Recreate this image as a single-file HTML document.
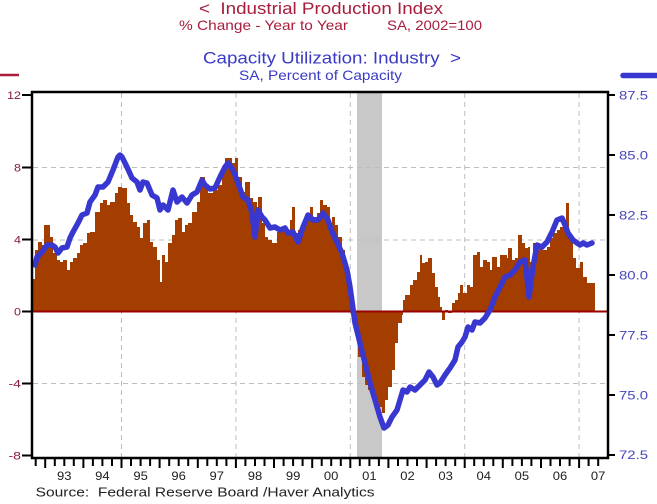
<!DOCTYPE html>
<html><head><meta charset="utf-8"><style>
html,body{margin:0;padding:0;background:#fff;}
svg{display:block;font-family:"Liberation Sans",Arial,sans-serif;}
</style></head><body>
<svg width="657" height="504" viewBox="0 0 657 504" xmlns="http://www.w3.org/2000/svg">
<rect width="657" height="504" fill="#fff"/>
<!-- titles -->
<text x="199" y="14" font-size="17" fill="#a81c3c" textLength="244" lengthAdjust="spacingAndGlyphs">&lt;&#160;&#160;Industrial Production Index</text>
<text x="179" y="30" font-size="14" fill="#a81c3c" textLength="169" lengthAdjust="spacingAndGlyphs">% Change - Year to Year</text>
<text x="387" y="30" font-size="14" fill="#a81c3c" textLength="95" lengthAdjust="spacingAndGlyphs">SA, 2002=100</text>
<text x="203" y="63.5" font-size="17" fill="#3a3ac4" textLength="258" lengthAdjust="spacingAndGlyphs">Capacity Utilization: Industry&#160;&#160;&gt;</text>
<text x="239" y="80" font-size="14" fill="#3a3ac4" textLength="163" lengthAdjust="spacingAndGlyphs">SA, Percent of Capacity</text>
<!-- legend marks -->
<line x1="0" y1="75" x2="19" y2="75" stroke="#a81c3c" stroke-width="2.5"/>
<line x1="623" y1="75.5" x2="657" y2="75.5" stroke="#3838d0" stroke-width="5.5" stroke-linecap="round"/>
<!-- recession -->
<rect x="357" y="93" width="25" height="364" fill="#c8c8c8"/>
<!-- gridlines -->
<g stroke="#bdbdbd" stroke-width="1" stroke-dasharray="5,4">
<line x1="33" y1="167.5" x2="607" y2="167.5"/>
<line x1="33" y1="240" x2="607" y2="240"/>
<line x1="33" y1="383.5" x2="607" y2="383.5"/>
<line x1="121.5" y1="93" x2="121.5" y2="457"/>
<line x1="235.9" y1="93" x2="235.9" y2="457"/>
<line x1="350.3" y1="93" x2="350.3" y2="457"/>
<line x1="464.7" y1="93" x2="464.7" y2="457"/>
<line x1="579.1" y1="93" x2="579.1" y2="457"/>
</g>
<!-- IP bars -->
<path fill="#a33d00" d="M33,311 V279 H35 V250 H38 V242 H42 V245 H44 V225 H50 V237 H53 V253 H57 V260 H60 V262 H63 V260 H67 V270 H70 V262 H73 V258 H77 V253 H80 V245 H83 V243 H87 V233 H90 V232 H95 V212 H100 V203 H103 V200 H107 V205 H110 V202 H115 V193 H118 V187 H122 V188 H127 V203 H130 V215 H133 V222 H137 V227 H140 V238 H143 V223 H147 V220 H150 V242 H153 V247 H157 V260 H160 V282 H162 V255 H165 V262 H168 V243 H172 V235 H175 V220 H178 V218 H182 V232 H185 V225 H188 V223 H192 V212 H197 V202 H200 V177 H205 V187 H208 V193 H213 V190 H218 V185 H222 V173 H225 V158 H232 V163 H235 V158 H238 V177 H242 V192 H245 V182 H250 V198 H253 V202 H257 V207 H258 V197 H262 V223 H265 V237 H268 V240 H272 V243 H277 V232 H280 V230 H283 V227 H287 V233 H290 V220 H292 V207 H295 V233 H298 V230 H303 V220 H307 V213 H310 V207 H313 V217 H317 V213 H320 V200 H323 V205 H327 V207 H330 V225 H332 V217 H335 V225 H338 V237 H342 V250 H345 V273 H350 V295 H353 V310 H354 V325 H357 V333 H358 V357 H362 V377 H365 V385 H368 V390 H372 V397 H375 V400 H378 V407 H382 V413 H385 V400 H388 V387 H392 V370 H395 V343 H398 V323 H402 V315 H403 V300 H405 V295 H410 V285 H413 V280 H417 V272 H420 V255 H422 V263 H425 V262 H428 V258 H432 V273 H435 V287 H438 V297 H440 V307 H442 V320 H445 V310 H448 V313 H452 V303 H455 V300 H458 V293 H460 V285 H463 V293 H467 V285 H470 V287 H473 V255 H477 V252 H480 V267 H483 V260 H487 V262 H490 V270 H492 V257 H497 V267 H500 V255 H507 V258 H508 V248 H512 V260 H515 V258 H518 V235 H522 V243 H525 V248 H528 V247 H530 V262 H533 V243 H540 V245 H543 V250 H547 V247 H550 V238 H553 V233 H557 V230 H560 V227 H563 V220 H566 V203 H569 V235 H573 V258 H576 V268 H580 V262 H583 V277 H587 V283 H595 V311 Z"/>
<!-- zero line -->
<line x1="33" y1="311.5" x2="607" y2="311.5" stroke="#990000" stroke-width="2"/>
<!-- CU line -->
<polyline fill="none" stroke="#3838d0" stroke-width="5.5" stroke-linejoin="round" stroke-linecap="round" points="35,265 37,257 42,252 47,245 52,245 55,247 58,253 62,248 67,247 70,238 73,232 78,223 82,215 87,213 90,202 95,195 98,187 103,187 108,182 113,170 118,157 120,155 122,157 127,167 132,178 137,182 140,190 143,182 147,183 152,195 157,198 160,210 163,205 168,210 173,190 177,202 182,197 187,203 192,195 197,192 202,180 205,185 210,189 215,188 220,177 225,167 228,163 233,170 238,183 243,197 248,200 252,213 255,237 258,210 262,217 265,220 270,228 275,227 280,230 285,228 288,233 293,232 298,242 303,227 308,215 313,220 318,220 323,213 328,220 332,232 337,242 342,253 347,270 350,287 355,323 360,343 365,363 370,383 375,400 380,417 384,428 388,425 392,417 397,410 400,400 403,390 407,392 410,387 415,390 420,385 425,380 429,372 433,377 437,385 440,383 445,375 450,368 455,360 458,347 462,342 465,337 468,327 472,330 475,322 480,323 485,318 490,310 495,297 500,287 505,277 510,275 515,270 520,262 525,260 529,297 533,267 537,245 542,247 547,242 552,232 557,220 562,218 565,225 568,233 573,240 577,243 580,245 583,243 587,245 592,243"/>
<!-- frame -->
<rect x="32" y="92" width="576" height="366" fill="none" stroke="#000" stroke-width="2.5"/>
<!-- left ticks -->
<g stroke="#000" stroke-width="2">
<line x1="22" y1="95" x2="32" y2="95"/>
<line x1="22" y1="167.5" x2="32" y2="167.5"/>
<line x1="22" y1="239.5" x2="32" y2="239.5"/>
<line x1="22" y1="311.5" x2="32" y2="311.5"/>
<line x1="22" y1="383.5" x2="32" y2="383.5"/>
<line x1="22" y1="455.5" x2="32" y2="455.5"/>
<line x1="608" y1="95" x2="615" y2="95"/>
<line x1="608" y1="155" x2="615" y2="155"/>
<line x1="608" y1="215" x2="615" y2="215"/>
<line x1="608" y1="275" x2="615" y2="275"/>
<line x1="608" y1="335" x2="615" y2="335"/>
<line x1="608" y1="395" x2="615" y2="395"/>
<line x1="608" y1="455" x2="615" y2="455"/>
</g>
<g font-size="11" fill="#8b1a3a" text-anchor="end">
<text x="21" y="99" textLength="14" lengthAdjust="spacingAndGlyphs">12</text>
<text x="21" y="171.5" textLength="7" lengthAdjust="spacingAndGlyphs">8</text>
<text x="21" y="243.5" textLength="7" lengthAdjust="spacingAndGlyphs">4</text>
<text x="21" y="315.5" textLength="7" lengthAdjust="spacingAndGlyphs">0</text>
<text x="21" y="387.5" textLength="12.5" lengthAdjust="spacingAndGlyphs">-4</text>
<text x="21" y="459.3" textLength="12.5" lengthAdjust="spacingAndGlyphs">-8</text>
</g>
<g font-size="11.5" fill="#4545c0">
<text x="619" y="99.5" textLength="29" lengthAdjust="spacingAndGlyphs">87.5</text>
<text x="619" y="159.5" textLength="29" lengthAdjust="spacingAndGlyphs">85.0</text>
<text x="619" y="219.5" textLength="29" lengthAdjust="spacingAndGlyphs">82.5</text>
<text x="619" y="279.5" textLength="29" lengthAdjust="spacingAndGlyphs">80.0</text>
<text x="619" y="339.5" textLength="29" lengthAdjust="spacingAndGlyphs">77.5</text>
<text x="619" y="399.5" textLength="29" lengthAdjust="spacingAndGlyphs">75.0</text>
<text x="619" y="459" textLength="29" lengthAdjust="spacingAndGlyphs">72.5</text>
</g>
<!-- bottom ticks -->
<path stroke="#000" stroke-width="2" fill="none" d="M35.7,459 V466 M54.8,459 V466 M64.3,459 V466 M73.8,459 V466 M92.9,459 V466 M102.4,459 V466 M112,459 V466 M131,459 V466 M140.6,459 V466 M150.1,459 V466 M169.2,459 V466 M178.7,459 V466 M188.2,459 V466 M207.3,459 V466 M216.8,459 V466 M226.4,459 V466 M245.4,459 V466 M255,459 V466 M264.5,459 V466 M283.6,459 V466 M293.1,459 V466 M302.6,459 V466 M321.7,459 V466 M331.2,459 V466 M340.8,459 V466 M359.8,459 V466 M369.4,459 V466 M378.9,459 V466 M398,459 V466 M407.5,459 V466 M417,459 V466 M436.1,459 V466 M445.6,459 V466 M455.2,459 V466 M474.2,459 V466 M483.8,459 V466 M493.3,459 V466 M512.4,459 V466 M521.9,459 V466 M531.4,459 V466 M550.5,459 V466 M560,459 V466 M569.6,459 V466 M588.6,459 V466 M598.2,459 V466"/>
<path stroke="#000" stroke-width="2" fill="none" d="M45.2,459 V468 M83.4,459 V468 M121.5,459 V468 M159.6,459 V468 M197.8,459 V468 M235.9,459 V468 M274,459 V468 M312.2,459 V468 M350.3,459 V468 M388.4,459 V468 M426.6,459 V468 M464.7,459 V468 M502.8,459 V468 M541,459 V468 M579.1,459 V468"/>
<g font-size="12" fill="#222" text-anchor="middle">
<text x="64.3" y="480" textLength="14.5" lengthAdjust="spacingAndGlyphs">93</text>
<text x="102.4" y="480" textLength="14.5" lengthAdjust="spacingAndGlyphs">94</text>
<text x="140.6" y="480" textLength="14.5" lengthAdjust="spacingAndGlyphs">95</text>
<text x="178.7" y="480" textLength="14.5" lengthAdjust="spacingAndGlyphs">96</text>
<text x="216.8" y="480" textLength="14.5" lengthAdjust="spacingAndGlyphs">97</text>
<text x="255" y="480" textLength="14.5" lengthAdjust="spacingAndGlyphs">98</text>
<text x="293.1" y="480" textLength="14.5" lengthAdjust="spacingAndGlyphs">99</text>
<text x="331.2" y="480" textLength="14.5" lengthAdjust="spacingAndGlyphs">00</text>
<text x="369.4" y="480" textLength="14.5" lengthAdjust="spacingAndGlyphs">01</text>
<text x="407.5" y="480" textLength="14.5" lengthAdjust="spacingAndGlyphs">02</text>
<text x="445.6" y="480" textLength="14.5" lengthAdjust="spacingAndGlyphs">03</text>
<text x="483.8" y="480" textLength="14.5" lengthAdjust="spacingAndGlyphs">04</text>
<text x="521.9" y="480" textLength="14.5" lengthAdjust="spacingAndGlyphs">05</text>
<text x="560" y="480" textLength="14.5" lengthAdjust="spacingAndGlyphs">06</text>
<text x="598.2" y="480" textLength="14.5" lengthAdjust="spacingAndGlyphs">07</text>
</g>
<text x="35.6" y="496.5" font-size="12.5" fill="#222" textLength="339" lengthAdjust="spacingAndGlyphs">Source:&#160;&#160;Federal Reserve Board /Haver Analytics</text>
</svg>
</body></html>
